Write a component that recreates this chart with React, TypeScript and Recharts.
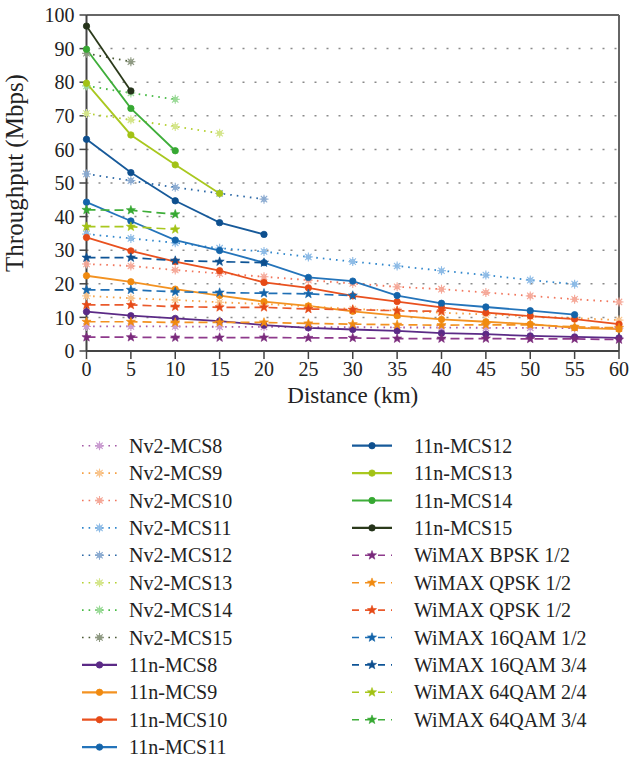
import { LineChart, Line, XAxis, YAxis, CartesianGrid, ReferenceLine } from 'recharts';

const FONT = "'Liberation Serif', 'Times New Roman', serif";

const distances = [0, 5, 10, 15, 20, 25, 30, 35, 40, 45, 50, 55, 60];
const yTicks = [0, 10, 20, 30, 40, 50, 60, 70, 80, 90, 100];

// Nv2 (dotted, asterisk markers)
const nv2Mcs8 = [7.3, 7.3, 7.3, 7.2, 7.2, 7.1, 7.1, 7.0, 7.0, 6.9, 6.9, 6.8, 6.8];
const nv2Mcs9 = [16.4, 15.7, 15.2, 14.5, 14.0, 13.3, 12.5, 12.0, 11.4, 10.9, 10.3, 9.8, 9.2];
const nv2Mcs10 = [25.9, 25.3, 24.1, 23.1, 22.1, 21.1, 20.1, 19.1, 18.4, 17.4, 16.4, 15.4, 14.6];
const nv2Mcs11 = [34.8, 33.5, 32.2, 30.6, 29.6, 28.0, 26.6, 25.3, 23.9, 22.6, 21.1, 19.9, null];
const nv2Mcs12 = [52.7, 50.7, 48.7, 46.9, 45.2];
const nv2Mcs13 = [70.7, 68.8, 66.8, 64.8];
const nv2Mcs14 = [78.9, 76.8, 74.9];
const nv2Mcs15 = [88.6, 86.1];

// 802.11n (solid, circle markers)
const n11Mcs8 = [11.7, 10.5, 9.7, 8.9, 7.7, 6.9, 6.4, 6.0, 5.3, 5.0, 4.5, 4.2, 3.9];
const n11Mcs9 = [22.4, 20.6, 18.4, 16.5, 14.7, 13.4, 11.8, 10.5, 9.4, 8.7, 8.0, 6.9, 6.5];
const n11Mcs10 = [33.8, 29.8, 26.6, 23.9, 20.4, 18.8, 16.4, 14.7, 13.0, 11.4, 10.4, 9.5, 8.0];
const n11Mcs11 = [44.3, 38.7, 33.0, 29.9, 26.3, 21.9, 20.8, 16.5, 14.2, 13.1, 12.0, 10.8];
const n11Mcs12 = [63.0, 53.1, 44.7, 38.2, 34.7];
const n11Mcs13 = [79.7, 64.3, 55.4, 46.9];
const n11Mcs14 = [89.8, 72.2, 59.6];
const n11Mcs15 = [96.7, 77.4];

// WiMAX (dashed, star markers)
const wimaxBpsk12 = [4.1, 4.1, 4.0, 4.0, 4.0, 3.9, 3.9, 3.7, 3.7, 3.7, 3.6, 3.6, 3.4];
const wimaxQpsk12a = [8.7, 8.7, 8.5, 8.5, 8.5, 8.2, 8.0, 7.8, 7.7, 7.8, 7.8, 7.2, 6.9];
const wimaxQpsk12b = [13.7, 13.7, 13.2, 13.0, 13.0, 12.5, 12.3, 12.0, 11.8];
const wimax16qam12 = [18.2, 18.2, 17.6, 17.4, 17.2, 17.0, 16.5];
const wimax16qam34 = [27.8, 27.8, 26.9, 26.6, 26.3];
const wimax64qam24 = [37.0, 37.0, 36.2];
const wimax64qam34 = [42.0, 41.9, 40.7];

type Kind = 'nv2' | 'n11' | 'wimax';
type Series = { name: string; values: (number | null)[]; color: string; mark: string; kind: Kind };

const series: Series[] = [
  { name: 'Nv2-MCS8', values: nv2Mcs8, color: '#a45aa6', mark: '#c99bd0', kind: 'nv2' },
  { name: 'Nv2-MCS9', values: nv2Mcs9, color: '#f6a043', mark: '#f8c48c', kind: 'nv2' },
  { name: 'Nv2-MCS10', values: nv2Mcs10, color: '#f1765c', mark: '#f5a898', kind: 'nv2' },
  { name: 'Nv2-MCS11', values: nv2Mcs11, color: '#2f86cc', mark: '#8dbbe6', kind: 'nv2' },
  { name: 'Nv2-MCS12', values: nv2Mcs12, color: '#2c68a6', mark: '#8aaad0', kind: 'nv2' },
  { name: 'Nv2-MCS13', values: nv2Mcs13, color: '#b5d131', mark: '#d4e58a', kind: 'nv2' },
  { name: 'Nv2-MCS14', values: nv2Mcs14, color: '#47bb44', mark: '#98d995', kind: 'nv2' },
  { name: 'Nv2-MCS15', values: nv2Mcs15, color: '#4b5a36', mark: '#8d9880', kind: 'nv2' },
  { name: '11n-MCS8', values: n11Mcs8, color: '#5b2a86', mark: '#5b2a86', kind: 'n11' },
  { name: '11n-MCS9', values: n11Mcs9, color: '#f39221', mark: '#f08a10', kind: 'n11' },
  { name: '11n-MCS10', values: n11Mcs10, color: '#e9511f', mark: '#e64a17', kind: 'n11' },
  { name: '11n-MCS11', values: n11Mcs11, color: '#2474ba', mark: '#1464aa', kind: 'n11' },
  { name: '11n-MCS12', values: n11Mcs12, color: '#175a9a', mark: '#0e4f8e', kind: 'n11' },
  { name: '11n-MCS13', values: n11Mcs13, color: '#a9c81f', mark: '#a2c215', kind: 'n11' },
  { name: '11n-MCS14', values: n11Mcs14, color: '#3fae3a', mark: '#36a832', kind: 'n11' },
  { name: '11n-MCS15', values: n11Mcs15, color: '#2b3a1b', mark: '#25331a', kind: 'n11' },
  { name: 'WiMAX BPSK 1/2', values: wimaxBpsk12, color: '#8e3a8c', mark: '#7a2a7c', kind: 'wimax' },
  { name: 'WiMAX QPSK 1/2', values: wimaxQpsk12a, color: '#f39221', mark: '#f08a10', kind: 'wimax' },
  { name: 'WiMAX QPSK 1/2', values: wimaxQpsk12b, color: '#ea5a2c', mark: '#e64a17', kind: 'wimax' },
  { name: 'WiMAX 16QAM 1/2', values: wimax16qam12, color: '#1f6fb5', mark: '#1464aa', kind: 'wimax' },
  { name: 'WiMAX 16QAM 3/4', values: wimax16qam34, color: '#0e5496', mark: '#0e4f8e', kind: 'wimax' },
  { name: 'WiMAX 64QAM 2/4', values: wimax64qam24, color: '#a9c81f', mark: '#a2c215', kind: 'wimax' },
  { name: 'WiMAX 64QAM 3/4', values: wimax64qam34, color: '#3fae3a', mark: '#36a832', kind: 'wimax' },
];

const rows = distances.map((d, i) => {
  const row: Record<string, number | null> = { distance: d };
  series.forEach((s, k) => {
    const v = s.values[i];
    row['s' + k] = v === undefined ? null : v;
  });
  return row;
});

function starPath(cx: number, cy: number, R: number, r: number) {
  let d = '';
  for (let i = 0; i < 10; i++) {
    const a = -Math.PI / 2 + (i * Math.PI) / 5;
    const rad = i % 2 === 0 ? R : r;
    d += (i === 0 ? 'M' : 'L') + (cx + rad * Math.cos(a)).toFixed(2) + ',' + (cy + rad * Math.sin(a)).toFixed(2);
  }
  return d + 'Z';
}

function Marker({ cx, cy, s }: { cx: number; cy: number; s: Series }) {
  if (s.kind === 'nv2') {
    const r = 4.5;
    const q = r * 0.707;
    return (
      <g stroke={s.mark} strokeWidth={1.1} fill="none">
        <line x1={cx - r} y1={cy} x2={cx + r} y2={cy} />
        <line x1={cx} y1={cy - r} x2={cx} y2={cy + r} />
        <line x1={cx - q} y1={cy - q} x2={cx + q} y2={cy + q} />
        <line x1={cx - q} y1={cy + q} x2={cx + q} y2={cy - q} />
        <circle cx={cx} cy={cy} r={2} />
      </g>
    );
  }
  if (s.kind === 'n11') return <circle cx={cx} cy={cy} r={3.2} fill={s.mark} stroke={s.mark} strokeWidth={0.8} />;
  return <path d={starPath(cx, cy, 4.8, 2.0)} fill={s.mark} stroke={s.mark} strokeWidth={0.6} />;
}

function dash(kind: Kind) {
  if (kind === 'nv2') return '1.6 5';
  if (kind === 'wimax') return '9 5';
  return undefined;
}

const textStyle = { fontFamily: FONT, fontSize: 20, fill: '#222' };

function Legend() {
  const rowY = (i: number) => 445.7 + i * 27.4;
  return (
    <svg width={634} height={761} style={{ position: 'absolute', left: 0, top: 0, pointerEvents: 'none' }}>
      {series.map((s, i) => {
        const col = i < 12 ? 0 : 1;
        const r = i < 12 ? i : i - 12;
        const x0 = col === 0 ? 82 : 352;
        const x1 = col === 0 ? 117 : 392;
        const tx = col === 0 ? 129 : 414;
        const y = rowY(r);
        return (
          <g key={i}>
            <line x1={x0} y1={y} x2={x1} y2={y} stroke={s.color} strokeWidth={s.kind === 'n11' ? 2.2 : 1.6}
              strokeDasharray={s.kind === 'nv2' ? '1.6 5' : s.kind === 'wimax' ? '7 6' : undefined} />
            <Marker cx={(x0 + x1) / 2} cy={y} s={s} />
            <text x={tx} y={y} dominantBaseline="central" style={textStyle}>{s.name}</text>
          </g>
        );
      })}
    </svg>
  );
}

export default function App() {
  return (
    <div style={{ position: 'absolute', left: 0, top: 0, width: 634, height: 761, overflow: 'hidden', background: '#fff', fontFamily: FONT }}>
      <style>{`svg text, svg tspan { font-family: 'Liberation Serif', 'Times New Roman', serif !important; }`}</style>
      <div style={{ position: 'absolute', left: 0, top: 0 }}>
        <LineChart width={634} height={410} data={rows} margin={{ top: 15, right: 15, left: 0, bottom: 0 }}>
          <CartesianGrid vertical={false} stroke="#8a8a8a" strokeDasharray="2 10" strokeWidth={1.5} />
          <XAxis
            type="number"
            dataKey="distance"
            domain={[0, 60]}
            ticks={distances}
            interval={0}
            height={59}
            tickSize={8}
            tickMargin={3}
            axisLine={{ stroke: '#444', strokeWidth: 2 }}
            tickLine={{ stroke: '#444', strokeWidth: 1.5 }}
            tick={{ style: textStyle }}
            label={{ value: 'Distance (km)', position: 'insideBottom', offset: 7, style: { ...textStyle, fontSize: 23 } }}
          />
          <YAxis
            type="number"
            domain={[0, 100]}
            ticks={yTicks}
            interval={0}
            width={86.5}
            tickSize={7}
            tickMargin={5}
            axisLine={{ stroke: '#444', strokeWidth: 2 }}
            tickLine={{ stroke: '#444', strokeWidth: 1.5 }}
            tick={{ style: textStyle }}
            label={{
              value: 'Throughput (Mbps)',
              angle: -90,
              position: 'insideLeft',
              offset: 14,
              dy: -10,
              style: { ...textStyle, fontSize: 25, textAnchor: 'middle' },
            }}
          />
          <ReferenceLine y={100} stroke="#666" strokeWidth={2} />
          <ReferenceLine x={60} stroke="#666" strokeWidth={2} />
          {series.map((s, k) => (
            <Line
              key={k}
              type="linear"
              dataKey={'s' + k}
              name={s.name}
              stroke={s.color}
              strokeWidth={s.kind === 'n11' ? 1.8 : s.kind === 'nv2' ? 1.8 : 1.7}
              strokeDasharray={dash(s.kind)}
              isAnimationActive={false}
              connectNulls={false}
              dot={(p: any) =>
                p.cy == null || p.value == null ? (
                  <g key={p.index} />
                ) : (
                  <Marker key={p.index} cx={p.cx} cy={p.cy} s={s} />
                )
              }
              activeDot={false}
            />
          ))}
        </LineChart>
      </div>
      <Legend />
    </div>
  );
}
